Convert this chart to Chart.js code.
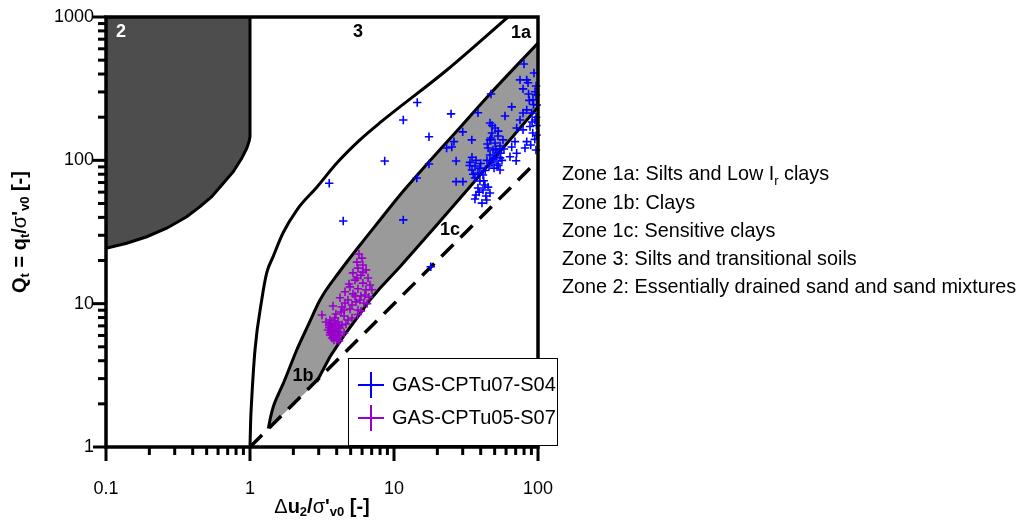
<!DOCTYPE html>
<html><head><meta charset="utf-8">
<script src="https://cdn.jsdelivr.net/npm/chart.js@4.4.1/dist/chart.umd.min.js"></script>
<style>html,body{margin:0;padding:0;background:#fff;}canvas{display:block;}</style>
</head><body>
<canvas id="c" width="1024" height="520"></canvas>
<script>
// ---------- data ----------
const X_TICK_LABELS = [0.1, 1, 10, 100];
const Y_TICK_LABELS = [1, 10, 100, 1000];
const seriesNames = ['GAS-CPTu07-S04', 'GAS-CPTu05-S07'];
const zoneNotes = [
  ['Zone 1a: Silts and Low I', 'r', ' clays'],
  ['Zone 1b: Clays'],
  ['Zone 1c: Sensitive clays'],
  ['Zone 3: Silts and transitional soils'],
  ['Zone 2: Essentially drained sand and sand mixtures']
];
const zoneLabelText = ['2', '3', '1a', '1b', '1c'];
const zoneLabelAt = [[0.127, 786], [5.62, 786], [76.2, 773], [2.33, 3.13], [24.5, 32.7]];

const blueCPTu07 = [
  [3.55,69.2],[4.44,37.7],[8.62,98.9],[11.6,38.4],[14.4,75.3],[14.5,253],[11.6,191],
  [24.9,211],[17.5,146],[18.0,18.1],[27.0,71.0],[30.1,71.0],[47.2,290],[38.3,215],
  [30.0,158],[26.1,135],[23.2,122],[25.2,124],[34.7,139],[27.0,98.9],[17.5,94.2],
  [59.0,204],[65.7,236],
  [79.9,470],[75.0,364],[83.5,364],[85.3,348],[93.8,407],[78.7,315],[95.3,301],[92.3,264],
  [83.5,225],[78.7,214],[90.4,214],[75.0,191],[88.0,172],[71.1,168],[78.7,163],[91.9,155],
  [69.2,135],[65.7,124],[81.2,122],[71.1,112],[83.5,135],[63.9,106],[70.5,99.4],
  [96.8,286],[98.0,243],[95.3,191],[97.5,150],[89.0,128],[96.8,118],
  [97,330],[93,245],[97,200],[91,185],[87,262],[95,140],[86,290],[97.5,175],
  [46.4,182],[50.3,168],[47.9,155],[52.7,148],[46.4,139],[50.3,132],[54.5,126],[45.0,122],
  [48.7,118],[52.7,114],[46.4,109],[50.3,105],[54.5,104],[44.2,100],[47.9,97.3],[51.9,94.2],
  [45.7,91.2],[49.5,88.3],[54.5,85.6],[57.1,139],[56.2,100],[48,175],[53,160],[44.5,130],
  [51,120],[55,112],[47,143],[49,102],[53,92],[58,120],
  [34.8,105],[37.1,100],[33.7,96.8],[36.5,91.2],[39.5,88.3],[34.8,85.6],[38.3,81.6],[41.5,79],
  [36.5,75.3],[39.5,71.8],[42.8,67.3],[38.3,64.1],[41.5,62.1],[37.1,57.3],[43.5,56.4],[46.4,59.2],
  [36.5,53.7],[44.0,52.9],[40.8,50.3],[33.5,92],[35.5,80],[40,95],[43,85],[42,72],[39,60],[45,65]
];

const purpleCPTu05 = [
  [5.71,22.2],[5.99,20.8],[5.53,19.5],[6.08,18.6],[5.62,17.7],[6.39,17.2],[5.19,16.4],[5.89,15.8],
  [6.60,15.1],[5.36,14.6],[6.08,13.9],[6.81,13.5],[4.95,13.1],[5.62,12.7],[6.39,12.5],[4.57,12.1],
  [5.19,11.7],[5.89,11.3],[6.70,11.1],[4.22,11.0],[4.79,10.6],[5.44,10.3],[6.18,10.1],[3.77,9.63],
  [4.35,9.48],[4.95,9.18],[5.62,9.03],[5.9,8.9],[3.16,8.34],[3.95,8.47],[4.50,8.20],[5.11,7.94],
  [3.59,7.69],[4.08,7.45],[4.64,7.21],[3.71,6.99],[4.22,6.77],[3.48,6.55],[3.95,6.34],[4.50,6.24],
  [3.59,6.05],[4.08,5.76],[3.83,5.58],[4.15,5.5],[4.35,7.10],[3.89,7.94],[3.54,7.10],[4.79,7.69],
  [4.29,8.75],[4.57,10.1],[5.11,9.79],[5.80,10.6],[6.28,11.5],[4.87,13.7],[5.53,15.1],[6.08,16.6],
  [7.03,12.5],[6.5,10.0],[5.6,8.4],[5.36,11.3],[3.83,6.55],[4.08,6.05],[3.71,5.76],[3.95,6.99],
  [3.37,7.45],[4.50,9.03],[3.6,6.3],[3.75,6.6],[3.9,7.2],[4.1,6.4],[3.65,7.3],[3.8,5.9],
  [4.0,5.6],[4.2,6.0],[3.55,6.8],[3.85,7.6],[4.15,7.0],[3.7,6.1]
];

// zone boundaries
const zone2Boundary = [
  [0.1,24.3],[0.1392,26.4],[0.1917,29.3],[0.2639,33.6],[0.3634,40.4],[0.4496,47.5],[0.542,55.8],
  [0.6526,69.2],[0.7656,83.3],[0.8757,103.3],[0.9486,121.3],[0.984,134.9],[1,146.2],[1,1000]
];
const zone3Boundary = [
  [1,1],[1.01,1.5],[1.027,2.13],[1.083,4.75],[1.206,10.6],[1.306,16.4],[1.445,21.2],[1.695,31.1],
  [2.12,45.2],[2.92,65.2],[4.01,95.8],[5.8,139],[7.99,183],[23.3,427],[61.9,1000]
];
const band1Tip = [1.34, 1.345];
const band1bUpper = [
  [1.392,1.627],[1.451,1.911],[1.572,2.332],[1.703,2.783],[1.896,3.633],[2.111,4.752],[2.54,7.10],
  [3.063,10.61],[4.217,16.9],[5.81,25.67],[7.99,38.35],[11.01,57.3],[15.16,82.9],[26.53,155.1],
  [46.42,290.3],[100,658.5]
];
const band1bLower = [
  [2.905,2.855],[3.594,4.266],[4.445,5.885],[5.508,7.907],[6.813,10.61],[7.99,12.8],[11.01,18.11],
  [19.27,34.27],[33.71,65.5],[100,235.6]
];
const dashedLine = [[1,1],[96,96]];

// ---------- helpers ----------
const FONT = "'Liberation Sans', Arial, Helvetica, sans-serif";
const xy = arr => arr.map(p => ({x: p[0], y: p[1]}));
const isMajor = v => Math.abs(Math.log10(v) - Math.round(Math.log10(v))) < 1e-9;
function logTicks(min, max) {
  const out = [];
  for (let e = Math.floor(Math.log10(min)); e <= Math.ceil(Math.log10(max)); e++) {
    for (let s = 1; s <= 9; s++) {
      const v = +(s * Math.pow(10, e)).toPrecision(6);
      if (v >= min - 1e-12 && v <= max + 1e-12) out.push(v);
    }
  }
  return out;
}
function tickLabel(v, list) {
  const hit = list.find(t => Math.abs(t - v) / t < 1e-6);
  return hit === undefined ? '' : String(hit);
}
function rich(ctx, parts, x, y, align) {
  let total = 0;
  parts.forEach(p => { ctx.font = `${p.w || 'normal'} ${p.s}px ${FONT}`; p._w = ctx.measureText(p.t).width; total += p._w; });
  let cx = align === 'center' ? x - total / 2 : x;
  parts.forEach(p => { ctx.font = `${p.w || 'normal'} ${p.s}px ${FONT}`; ctx.fillText(p.t, cx, y + (p.dy || 0)); cx += p._w; });
}

const lineBase = {pointRadius: 0, pointHoverRadius: 0, borderColor: '#000', borderWidth: 3, fill: false, tension: 0};
const crossBase = {showLine: false, pointStyle: 'cross', pointRadius: 4.2, pointHoverRadius: 4.2, pointBorderWidth: 1.6, clip: false};

const decor = {
  id: 'decor',
  afterDatasetsDraw(chart) {
    const {ctx, chartArea: a, scales: {x, y}} = chart;
    ctx.save();
    // zone labels
    ctx.textAlign = 'center'; ctx.textBaseline = 'middle';
    ctx.font = `bold 18px ${FONT}`;
    zoneLabelText.forEach((t, i) => {
      ctx.fillStyle = i === 0 ? '#fff' : '#000';
      ctx.fillText(t, x.getPixelForValue(zoneLabelAt[i][0]), y.getPixelForValue(zoneLabelAt[i][1]));
    });
    // frame
    ctx.strokeStyle = '#000'; ctx.lineWidth = 3.5;
    ctx.strokeRect(a.left, a.top, a.right - a.left, a.bottom - a.top);
    // tick marks
    ctx.lineWidth = 3;
    x.ticks.forEach(t => {
      const px = x.getPixelForValue(t.value), len = isMajor(t.value) ? 14 : 8;
      ctx.beginPath(); ctx.moveTo(px, a.bottom); ctx.lineTo(px, a.bottom + len); ctx.stroke();
    });
    y.ticks.forEach(t => {
      const py = y.getPixelForValue(t.value), len = isMajor(t.value) ? 13 : 8;
      ctx.beginPath(); ctx.moveTo(a.left, py); ctx.lineTo(a.left - len, py); ctx.stroke();
    });
    // legend
    const lx = 348.5, ly = 358.5, lw = 209, lh = 87;
    ctx.fillStyle = '#fff'; ctx.fillRect(lx, ly, lw, lh);
    ctx.strokeStyle = '#000'; ctx.lineWidth = 1; ctx.strokeRect(lx, ly, lw, lh);
    const colors = ['#0000ff', '#9900cc'];
    [385, 418].forEach((cy, i) => {
      ctx.strokeStyle = colors[i]; ctx.lineWidth = 2;
      ctx.beginPath(); ctx.moveTo(358, cy); ctx.lineTo(384, cy); ctx.moveTo(371, cy - 13); ctx.lineTo(371, cy + 13); ctx.stroke();
      ctx.fillStyle = '#000'; ctx.textAlign = 'left'; ctx.textBaseline = 'middle';
      ctx.font = `20px ${FONT}`; ctx.fillText(seriesNames[i], 392, cy);
    });
    // right-hand zone notes
    ctx.fillStyle = '#000'; ctx.textBaseline = 'middle'; ctx.textAlign = 'left';
    zoneNotes.forEach((n, i) => {
      const cy = 175 + i * 28.2;
      const parts = [{t: n[0], s: 19.8}];
      if (n.length > 1) { parts.push({t: n[1], s: 13, dy: 6}); parts.push({t: n[2], s: 19.8}); }
      rich(ctx, parts, 562, cy, 'left');
    });
    // x title
    ctx.textAlign = 'left'; ctx.textBaseline = 'middle';
    rich(ctx, [
      {t: '\u0394', s: 20}, {t: 'u', s: 20, w: 'bold'}, {t: '2', s: 13, w: 'bold', dy: 5},
      {t: '/', s: 20, w: 'bold'}, {t: '\u03c3', s: 20}, {t: "'", s: 20, w: 'bold'},
      {t: 'v0', s: 13, w: 'bold', dy: 5}, {t: ' [-]', s: 20, w: 'bold'}
    ], (a.left + a.right) / 2, 507, 'center');
    // y title
    ctx.translate(20, (a.top + a.bottom) / 2); ctx.rotate(-Math.PI / 2);
    rich(ctx, [
      {t: 'Q', s: 20, w: 'bold'}, {t: 't', s: 13, w: 'bold', dy: 5}, {t: ' = q', s: 20, w: 'bold'},
      {t: 't', s: 13, w: 'bold', dy: 5}, {t: '/', s: 20, w: 'bold'}, {t: '\u03c3', s: 20},
      {t: "'", s: 20, w: 'bold'}, {t: 'v0', s: 13, w: 'bold', dy: 5}, {t: ' [-]', s: 20, w: 'bold'}
    ], 0, 0, 'center');
    ctx.restore();
  }
};

new Chart(document.getElementById('c'), {
  type: 'line',
  data: {
    datasets: [
      Object.assign({label: seriesNames[0], data: xy(blueCPTu07), pointBorderColor: '#0000ff', pointBackgroundColor: '#0000ff', borderColor: '#0000ff'}, crossBase),
      Object.assign({label: seriesNames[1], data: xy(purpleCPTu05), pointBorderColor: '#9900cc', pointBackgroundColor: '#9900cc', borderColor: '#9900cc'}, crossBase),
      Object.assign({}, lineBase, {label: 'dashed', data: xy(dashedLine), borderWidth: 3.5, borderDash: [17, 10]}),
      Object.assign({}, lineBase, {label: 'zone3', data: xy(zone3Boundary), cubicInterpolationMode: 'monotone'}),
      Object.assign({}, lineBase, {label: 'lower', data: xy(band1bLower)}),
      Object.assign({}, lineBase, {label: 'upper', data: xy([band1Tip].concat(band1bUpper)), cubicInterpolationMode: 'monotone', fill: {target: 6}, backgroundColor: '#9a9a9a'}),
      Object.assign({}, lineBase, {label: 'base', data: xy([band1Tip].concat(band1bLower)), borderWidth: 0, borderColor: 'rgba(0,0,0,0)'}),
      Object.assign({}, lineBase, {label: 'zone2', data: xy(zone2Boundary), fill: 'end', backgroundColor: '#4d4d4d'})
    ]
  },
  options: {
    responsive: false, animation: false, devicePixelRatio: 1,
    layout: {padding: {left: 0, right: 486, top: 17, bottom: 0}},
    plugins: {legend: {display: false}, tooltip: {enabled: false}, title: {display: false}},
    events: [],
    scales: {
      x: {
        type: 'logarithmic', min: 0.1, max: 100, position: 'bottom',
        grid: {display: false, drawTicks: false}, border: {display: false},
        afterBuildTicks: s => { s.ticks = logTicks(0.1, 100).map(v => ({value: v, major: isMajor(v)})); },
        ticks: {autoSkip: false, maxRotation: 0, padding: 31, color: '#000', font: {family: FONT, size: 18},
          callback: v => tickLabel(v, X_TICK_LABELS)},
        afterFit: s => { s.height = 73; s.paddingLeft = 0; s.paddingRight = 0; }
      },
      y: {
        type: 'logarithmic', min: 1, max: 1000, position: 'left',
        grid: {display: false, drawTicks: false}, border: {display: false},
        afterBuildTicks: s => { s.ticks = logTicks(1, 1000).map(v => ({value: v, major: isMajor(v)})); },
        ticks: {autoSkip: false, padding: 12, color: '#000', font: {family: FONT, size: 18},
          callback: v => tickLabel(v, Y_TICK_LABELS)},
        afterFit: s => { s.width = 106; s.paddingTop = 0; s.paddingBottom = 0; }
      }
    }
  },
  plugins: [decor]
});
</script>
</body></html>
